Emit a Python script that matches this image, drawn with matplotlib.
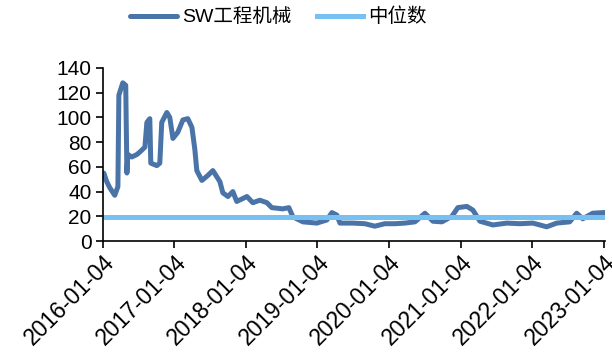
import numpy as np
import pandas as pd
import matplotlib
matplotlib.use("Agg")
import matplotlib.pyplot as plt

plt.rcParams['font.family'] = ['Liberation Sans', 'Noto Sans CJK SC', 'DejaVu Sans']

# PE (TTM) readings
dates = [
    "2016-01-04", "2016-01-09", "2016-01-24", "2016-02-09", "2016-03-05", "2016-03-21",
    "2016-03-26", "2016-04-15", "2016-04-30", "2016-05-06", "2016-05-11", "2016-05-31",
    "2016-06-26", "2016-07-11", "2016-08-06", "2016-08-16", "2016-08-31", "2016-09-05",
    "2016-10-06", "2016-10-21", "2016-10-31", "2016-11-26", "2016-12-11", "2016-12-27",
    "2017-01-21", "2017-02-16", "2017-03-13", "2017-04-03", "2017-04-18", "2017-04-28",
    "2017-05-24", "2017-06-23", "2017-07-19", "2017-08-24", "2017-09-08", "2017-10-04",
    "2017-10-29", "2017-11-18", "2018-01-09", "2018-02-08", "2018-03-16", "2018-04-21",
    "2018-05-16", "2018-07-11", "2018-08-11", "2018-09-01", "2018-10-22", "2019-01-01",
    "2019-02-21", "2019-03-19", "2019-04-13", "2019-04-29", "2019-07-04", "2019-09-03",
    "2019-10-24", "2019-12-14", "2020-02-04", "2020-03-26", "2020-05-16", "2020-07-06",
    "2020-08-16", "2020-10-01", "2020-11-21", "2020-12-21", "2021-02-05", "2021-03-08",
    "2021-04-13", "2021-06-18", "2021-08-29", "2021-11-03", "2022-01-08", "2022-03-20",
    "2022-05-10", "2022-07-15", "2022-08-20", "2022-09-20", "2022-11-10", "2023-01-04",
    "2023-01-12",
]
pe = [
    53, 55, 48, 43, 37, 44,
    118, 128, 126, 55, 70, 68,
    70, 72, 76, 96, 99, 63,
    61, 63, 96, 104, 100, 83,
    88, 98, 99, 92, 74, 57,
    49, 53, 57, 48, 39, 36,
    40, 32, 36, 31, 33, 31,
    27, 26, 27, 19.5, 15.5, 14.5,
    17, 23, 21, 14.5, 14.5, 14,
    12, 14, 14, 14.5, 15.5, 22.5,
    16, 15.5, 20, 27, 28, 25,
    16, 13, 14.5, 14, 14.5, 11.5,
    14.5, 15.5, 22.5, 18, 22.5, 23,
    23,
]
median_pe = 19.8

series_name = "SW工程机械"
median_name = "中位数"
tick_dates = ["2016-01-04", "2017-01-04", "2018-01-04", "2019-01-04",
              "2020-01-04", "2021-01-04", "2022-01-04", "2023-01-04"]

x = pd.to_datetime(dates)

fig = plt.figure(figsize=(6.12, 3.56), dpi=100)
ax = fig.add_axes([0.168, 0.323, 0.821, 0.486])

l1, = ax.plot(x, pe, color="#4a74a8", lw=3.6, solid_joinstyle="round", solid_capstyle="round")
l2 = ax.axhline(median_pe, color="#76c1f1", lw=3.6)

ax.set_ylim(0, 140)
ax.set_yticks(np.arange(0, 141, 20))
ax.set_xlim(pd.Timestamp("2016-01-04"), pd.Timestamp("2023-01-13"))
ticks = pd.to_datetime(tick_dates)
ax.set_xticks(ticks)
ax.set_xticklabels(tick_dates, rotation=45, ha="right", va="top",
                   rotation_mode="anchor", fontsize=16.5)

for s in ["top", "right"]:
    ax.spines[s].set_visible(False)
for s in ["left", "bottom"]:
    ax.spines[s].set_linewidth(1.2)
    ax.spines[s].set_color("black")
ax.tick_params(axis="both", length=5, width=1.2, colors="black")
ax.tick_params(axis="y", labelsize=15, pad=3)
ax.tick_params(axis="x", pad=2)

fig.legend([l1, l2], [series_name, median_name], loc="center",
           bbox_to_anchor=(0.455, 0.952), ncol=2, frameon=False, fontsize=14,
           handlelength=2.4, handletextpad=0.25, columnspacing=1.3)

fig.savefig("out.png", dpi=100)
